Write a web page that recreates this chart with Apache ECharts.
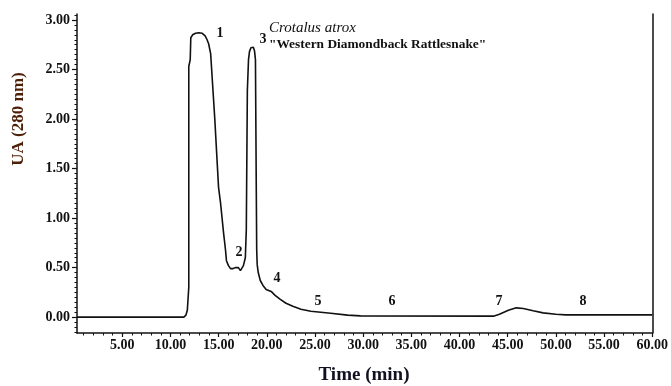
<!DOCTYPE html>
<html>
<head>
<meta charset="utf-8">
<script src="https://cdn.jsdelivr.net/npm/echarts@6/dist/echarts.min.js"></script>
<style>html,body{margin:0;padding:0;background:#fff}#c{width:671px;height:386px}</style>
</head>
<body>
<div id="c"></div>
<script>
// Chromatogram trace: time (min) and absorbance (UA at 280 nm)
var timeMin = [0.3,11.39,11.6,11.75,11.9,11.9,12.05,12.11,12.3,12.6,12.93,13.3,13.6,13.8,13.96,14.17,14.6,14.99,15.2,15.51,15.71,15.81,16.02,16.23,16.5,16.74,17.05,17.26,17.36,17.57,17.77,17.87,17.98,18.1,18.2,18.35,18.49,18.6,18.72,18.82,18.9,18.95,19.0,19.11,19.32,19.6,19.93,20.45,20.86,21.4,21.99,22.7,23.54,24.57,26.63,28.38,29.72,43.52,44.14,45.07,45.89,46.61,47.64,48.67,50.01,51.04,60];
var absorbance = [0,0,0.02,0.07,0.3,2.53,2.6,2.82,2.85,2.865,2.87,2.865,2.84,2.8,2.76,2.66,2.0,1.31,1.15,0.85,0.68,0.57,0.52,0.49,0.49,0.5,0.5,0.47,0.46,0.52,0.6,0.88,2.29,2.6,2.68,2.72,2.735,2.725,2.69,2.6,1.38,0.68,0.53,0.45,0.37,0.32,0.28,0.26,0.22,0.18,0.14,0.11,0.08,0.06,0.04,0.02,0.013,0.01,0.03,0.07,0.094,0.088,0.064,0.043,0.03,0.023,0.023];
var xTickLabels = [5,10,15,20,25,30,35,40,45,50,55,60];
var yTickLabels = [0,0.5,1,1.5,2,2.5,3];
var peakLabels = ['1','2','3','4','5','6','7','8'];
var titleLines = ['Crotalus atrox', '"Western Diamondback Rattlesnake"'];

var xMinor = [];
for (var i = 1; i < 60; i++) { if (i % 5 !== 0) xMinor.push(i); }
var yMinor = [];
for (var k = -3; k <= 61; k++) { if (k % 10 !== 0) yMinor.push(k / 20); }

var data = timeMin.map(function (t, i) { return [t, absorbance[i]]; });
var serif = 'Liberation Serif';
var XMIN = 0.3, XMAX = 60, YMIN = -0.16, YMAX = 3.06;

var peakPos = [[220,33],[239,252],[263,39],[277,278],[318,301],[392,301],[499,301],[583,301]];
var graphics = peakLabels.map(function (p, i) {
  return {type:'text', x: peakPos[i][0], y: peakPos[i][1], style:{text:p, font:'bold 14px "Liberation Serif"', fill:'#111', align:'center', verticalAlign:'middle'}};
});
graphics.push({type:'text', x:269, y:28, style:{text:titleLines[0], font:'italic 15px "Liberation Serif"', fill:'#111', align:'left', verticalAlign:'middle'}});
graphics.push({type:'text', x:269, y:45, style:{text:titleLines[1], font:'bold 13.4px "Liberation Serif"', fill:'#111', align:'left', verticalAlign:'middle'}});
graphics.push({type:'text', x:19, y:119, rotation:Math.PI/2, style:{text:'UA (280 nm)', font:'bold 17px "Liberation Serif"', fill:'#4e1f08', align:'center', verticalAlign:'middle'}});
graphics.push({type:'text', x:364, y:375, style:{text:'Time (min)', font:'bold 19px "Liberation Serif"', fill:'#111122', align:'center', verticalAlign:'middle'}});

var chart = echarts.init(document.getElementById('c'), null, {renderer:'canvas'});
chart.setOption({
  animation: false,
  backgroundColor: '#fff',
  grid: {left:77, right:14, top:14, bottom:53, containLabel:false},
  xAxis: [
    {type:'value', min:XMIN, max:XMAX, position:'bottom',
     axisLine:{onZero:false, lineStyle:{color:'#111', width:1.5}},
     axisTick:{customValues:xTickLabels, length:4, lineStyle:{color:'#111', width:1.2}},
     axisLabel:{customValues:xTickLabels, formatter:function(v){return v.toFixed(2);}, fontFamily:serif, fontWeight:'bold', fontSize:14, color:'#111', margin:5},
     splitLine:{show:false}},
    {type:'value', min:XMIN, max:XMAX, position:'bottom',
     axisLine:{show:false, onZero:false},
     axisTick:{customValues:xMinor, length:2.5, lineStyle:{color:'#111', width:1}},
     axisLabel:{show:false}, splitLine:{show:false}}
  ],
  yAxis: [
    {type:'value', min:YMIN, max:YMAX, position:'left',
     axisLine:{show:true, onZero:false, lineStyle:{color:'#111', width:1.5}},
     axisTick:{show:true, customValues:yTickLabels, length:5, lineStyle:{color:'#111', width:1.2}},
     axisLabel:{customValues:yTickLabels, formatter:function(v){return v.toFixed(2);}, fontFamily:serif, fontWeight:'bold', fontSize:14, color:'#111', margin:7},
     splitLine:{show:false}},
    {type:'value', min:YMIN, max:YMAX, position:'left',
     axisLine:{show:false, onZero:false},
     axisTick:{show:true, customValues:yMinor, length:2.5, lineStyle:{color:'#111', width:1}},
     axisLabel:{show:false}, splitLine:{show:false}},
    {type:'value', min:YMIN, max:YMAX, position:'right',
     axisLine:{show:true, onZero:false, lineStyle:{color:'#111', width:1.5}},
     axisTick:{show:false}, axisLabel:{show:false}, splitLine:{show:false}}
  ],
  series: [{
    type:'line', xAxisIndex:0, yAxisIndex:0, data:data, showSymbol:false, symbol:'none',
    lineStyle:{color:'#111', width:1.6}, silent:true
  }],
  graphic: graphics
});
</script>
</body>
</html>
